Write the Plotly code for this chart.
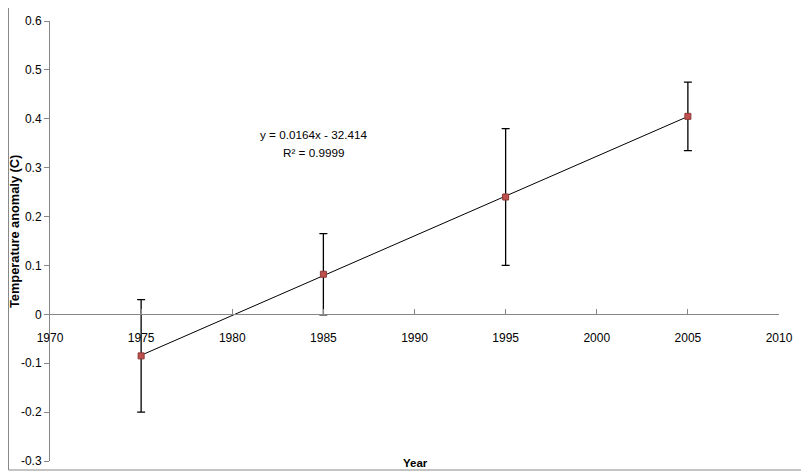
import numpy as np
import plotly.graph_objects as go

years = [1975, 1985, 1995, 2005]
anomaly = [-0.085, 0.082, 0.240, 0.405]
err_up = [0.115, 0.083, 0.140, 0.070]
err_down = [0.115, 0.083, 0.140, 0.070]
x_ticks = [1970, 1975, 1980, 1985, 1990, 1995, 2000, 2005, 2010]
y_ticks = [-0.3, -0.2, -0.1, 0, 0.1, 0.2, 0.3, 0.4, 0.5, 0.6]
y_tick_labels = ["-0.3", "-0.2", "-0.1", "0", "0.1", "0.2", "0.3", "0.4", "0.5", "0.6"]
eq_line1 = "y = 0.0164x - 32.414"
eq_line2 = "R² = 0.9999"

slope, intercept = np.polyfit(years, anomaly, 1)
trend_x = [years[0], years[-1]]
trend_y = [slope * v + intercept for v in trend_x]

font = "Liberation Sans, Arial, sans-serif"
axis_col = "#868686"

# page body has an 8px margin, so the figure is sized/offset accordingly
W, H = 801, 467
ML, MR, MT, MB = 42, 30, 13, 14
PW, PH = W - ML - MR, H - MT - MB  # 729 x 440


def px(xp):
    return (xp - 8 - ML) / PW


def py(yp):
    return (MT + PH - (yp - 8)) / PH


fig = go.Figure()
fig.add_trace(go.Scatter(x=trend_x, y=trend_y, mode="lines",
                         line=dict(color="#000000", width=1), showlegend=False, hoverinfo="skip"))
fig.add_trace(go.Scatter(
    x=years, y=anomaly, mode="markers",
    marker=dict(symbol="square", size=6, color="#C0504D", line=dict(color="#8C3836", width=1)),
    error_y=dict(type="data", array=err_up, arrayminus=err_down, color="#000000",
                 thickness=1.3, width=4, symmetric=False),
    showlegend=False))

fig.update_layout(
    width=W, height=H,
    margin=dict(l=ML, r=MR, t=MT, b=MB, autoexpand=False),
    paper_bgcolor="white", plot_bgcolor="white",
    font=dict(family=font, size=11, color="#000000"),
    xaxis=dict(range=[1970, 2010], tickvals=x_ticks, ticktext=[str(v) for v in x_ticks],
               showgrid=False, zeroline=False, showline=True, linecolor=axis_col, linewidth=1,
               ticks="inside", ticklen=5, tickcolor=axis_col, automargin=False,
               anchor="free", position=1/3, ticklabelstandoff=12,
               tickfont=dict(size=12, family=font)),
    yaxis=dict(range=[-0.3, 0.6], tickvals=y_ticks, ticktext=y_tick_labels,
               showgrid=False, zeroline=False, showline=True, linecolor=axis_col, linewidth=1,
               ticks="outside", ticklen=5, tickcolor=axis_col, automargin=False,
               tickfont=dict(size=12, family=font)),
    shapes=[dict(type="rect", xref="paper", yref="paper", x0=px(8.5), x1=px(806),
                 y0=py(470), y1=py(-5), line=dict(color="#888888", width=1),
                 fillcolor="rgba(0,0,0,0)")],
    annotations=[
        dict(text="<b>Year</b>", xref="paper", yref="paper", x=px(415), y=py(463),
             yanchor="middle", xanchor="center", showarrow=False, font=dict(size=11.5, family=font)),
        dict(text="<b>Temperature anomaly (C)</b>", xref="paper", yref="paper", x=px(15), y=py(232),
             xanchor="center", yanchor="middle",
             textangle=-90, showarrow=False, font=dict(size=12.8, family=font)),
        dict(text=eq_line1, xref="paper", yref="paper", x=px(313), y=py(134),
             xanchor="center", yanchor="middle", showarrow=False, font=dict(size=11.7, family=font)),
        dict(text=eq_line2, xref="paper", yref="paper", x=px(313), y=py(152),
             xanchor="center", yanchor="middle", showarrow=False, font=dict(size=11.7, family=font)),
    ],
)

fig.write_html("out.html")
